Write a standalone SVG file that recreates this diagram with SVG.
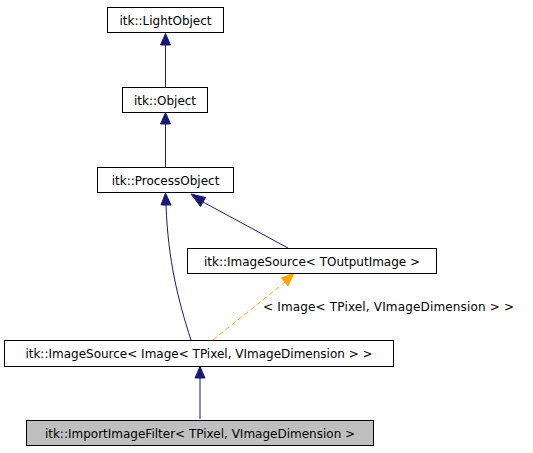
<svg xmlns="http://www.w3.org/2000/svg" width="533" height="453" viewBox="0 0 533 453">
<style>
.box{fill:#ffffff;stroke:#000000;stroke-width:1}
.cur{fill:#bfbfbf;stroke:#000000;stroke-width:1}
text{font-family:"DejaVu Sans",sans-serif;font-size:12px;fill:#000000}
.t{text-anchor:middle}
.e{fill:none;stroke:#191970;stroke-width:1}
.d{fill:none;stroke:#ffa500;stroke-width:1;stroke-dasharray:5,3}
.h{fill:#191970;stroke:#191970}
.ho{fill:#ffa500;stroke:#ffa500}
</style>
<rect width="533" height="453" fill="#ffffff"/>
<g id="edges">
<path class="e" d="M165.5,87 L165.5,45"/>
<polygon class="h" points="165.5,33.5 160.5,45 170.5,45"/>
<path class="e" d="M165.5,167 L165.5,124"/>
<polygon class="h" points="165.5,112.5 160.5,124 170.5,124"/>
<path class="e" d="M191,340 C178,300 168,260 166,205"/>
<polygon class="h" points="165.5,193 161,205 171,205"/>
<path class="e" d="M288,248 L203,202"/>
<polygon class="h" points="191,194 200.5,206.5 205.5,197.5"/>
<path class="d" d="M213,340 L285,282"/>
<polygon class="ho" points="294,273 281.5,278 288,286"/>
<path class="e" d="M200,419 L200,378"/>
<polygon class="h" points="200,366.5 195,378 205,378"/>
</g>
<text x="263" y="311" textLength="251">&lt; Image&lt; TPixel, VImageDimension &gt; &gt;</text>
<g id="n_lightobject"><rect class="box" x="107.5" y="7.5" width="116" height="25"/><text class="t" x="165.5" y="24.5">itk::LightObject</text></g>
<g id="n_object"><rect class="box" x="122.5" y="87.5" width="85" height="25"/><text class="t" x="165" y="104.5">itk::Object</text></g>
<g id="n_processobject"><rect class="box" x="97.5" y="167.5" width="136" height="25"/><text class="t" x="165.5" y="184.5">itk::ProcessObject</text></g>
<g id="n_imagesource_t"><rect class="box" x="187.5" y="248.5" width="249" height="25"/><text class="t" x="312" y="265.5">itk::ImageSource&lt; TOutputImage &gt;</text></g>
<g id="n_imagesource_img"><rect class="box" x="4.5" y="340.5" width="389" height="26"/><text class="t" x="199" y="358">itk::ImageSource&lt; Image&lt; TPixel, VImageDimension &gt; &gt;</text></g>
<g id="n_importimagefilter"><rect class="cur" x="26.5" y="420.5" width="347" height="25"/><text class="t" x="200" y="437.5">itk::ImportImageFilter&lt; TPixel, VImageDimension &gt;</text></g>
</svg>
